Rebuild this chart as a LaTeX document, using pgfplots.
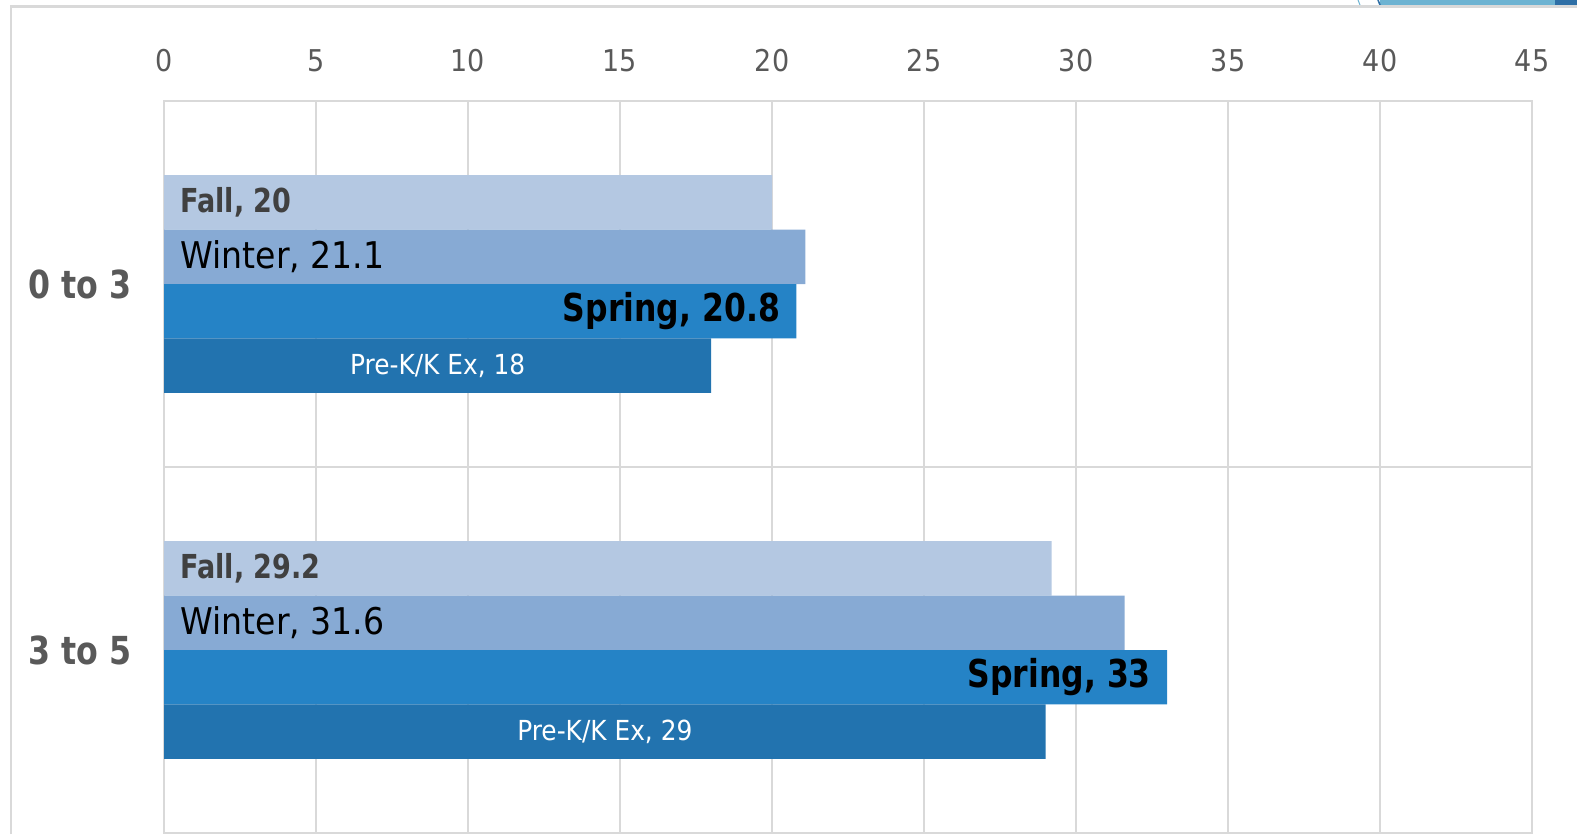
\documentclass[border=0pt]{standalone}
\usepackage{fontspec}
\setmainfont{DejaVu Sans}[FakeStretch=0.9, BoldFeatures={FakeStretch=0.82}]
\usepackage{pgfplots}
\pgfplotsset{compat=1.18}
\definecolor{gridgray}{HTML}{D9D9D9}
\definecolor{labgray}{HTML}{595959}
\definecolor{fallc}{HTML}{B4C8E2}
\definecolor{winterc}{HTML}{87AAD4}
\definecolor{springc}{HTML}{2583C6}
\definecolor{prekc}{HTML}{2273AF}
\definecolor{decolight}{HTML}{6DB3D2}
\definecolor{decodark}{HTML}{2E6FA6}
\begin{document}
\begin{tikzpicture}
\useasboundingbox (0,0) rectangle (788.5pt,-417pt);
\fill[decolight] (690pt,0) rectangle (777.5pt,-2.5pt);
\fill[decodark] (777.5pt,0) rectangle (788.5pt,-2.5pt);
\draw[decodark, line width=0.8pt] (689pt,0) -- (690pt,-2.5pt);
\draw[decolight, line width=0.5pt] (679pt,0) -- (680pt,-2.5pt);
\draw[gridgray, line width=1.2pt] (5.5pt,-417pt) -- (5.5pt,-3.3pt) -- (788.5pt,-3.3pt);
\begin{axis}[
  at={(82pt,-416.5pt)}, anchor=south west,
  scale only axis, width=684pt, height=366pt,
  xmin=0, xmax=45, ymin=-0.5, ymax=1.5,
  xtick={0,5,...,45},
  ytick={0,1}, yticklabels={3 to 5, 0 to 3},
  minor ytick={0.5},
  xmajorgrids, yminorgrids,
  grid style={gridgray, line width=1pt},
  minor grid style={gridgray, line width=1pt},
  axis line style={gridgray, line width=1pt},
  major tick length=0pt, minor tick length=0pt,
  tick style={draw=none},
  xticklabel pos=top,
  /pgf/number format/assume math mode=true,
  xticklabel style={anchor=base, inner sep=0pt, yshift=15pt, text=labgray, font=\fontsize{15}{17}\selectfont},
  yticklabel style={anchor=east, inner sep=0pt, xshift=-16pt, text=labgray, font=\bfseries\fontsize{19.3}{21}\selectfont},
  xbar, bar width=27.2pt,
  clip=false,
]
\addplot[fill=fallc, draw=none, bar shift=40.8pt] coordinates {(20,1) (29.2,0)};
\addplot[fill=winterc, draw=none, bar shift=13.6pt] coordinates {(21.1,1) (31.6,0)};
\addplot[fill=springc, draw=none, bar shift=-13.6pt] coordinates {(20.8,1) (33,0)};
\addplot[fill=prekc, draw=none, bar shift=-40.8pt] coordinates {(18,1) (29,0)};
% labels
\node[anchor=west, inner sep=0pt, xshift=8pt, yshift=40.8pt, text=black!75, font=\bfseries\fontsize{16.5}{18}\selectfont] at (axis cs:0,1) {Fall, 20};
\node[anchor=west, inner sep=0pt, xshift=8pt, yshift=40.8pt, text=black!75, font=\bfseries\fontsize{16.5}{18}\selectfont] at (axis cs:0,0) {Fall, 29.2};
\node[anchor=west, inner sep=0pt, xshift=8pt, yshift=13.6pt, text=black, font=\fontsize{18.4}{20}\selectfont] at (axis cs:0,1) {Winter, 21.1};
\node[anchor=west, inner sep=0pt, xshift=8pt, yshift=13.6pt, text=black, font=\fontsize{18.4}{20}\selectfont] at (axis cs:0,0) {Winter, 31.6};
\node[anchor=east, inner sep=0pt, xshift=-8pt, yshift=-13.6pt, text=black, font=\bfseries\fontsize{19.2}{21}\selectfont] at (axis cs:20.8,1) {Spring, 20.8};
\node[anchor=east, inner sep=0pt, xshift=-8pt, yshift=-13.6pt, text=black, font=\bfseries\fontsize{19.2}{21}\selectfont] at (axis cs:33,0) {Spring, 33};
\node[anchor=center, inner sep=0pt, yshift=-40.8pt, text=white, font=\fontsize{13.8}{15}\selectfont] at (axis cs:9,1) {Pre-K/K Ex, 18};
\node[anchor=center, inner sep=0pt, yshift=-40.8pt, text=white, font=\fontsize{13.8}{15}\selectfont] at (axis cs:14.5,0) {Pre-K/K Ex, 29};
\end{axis}
\end{tikzpicture}
\end{document}
